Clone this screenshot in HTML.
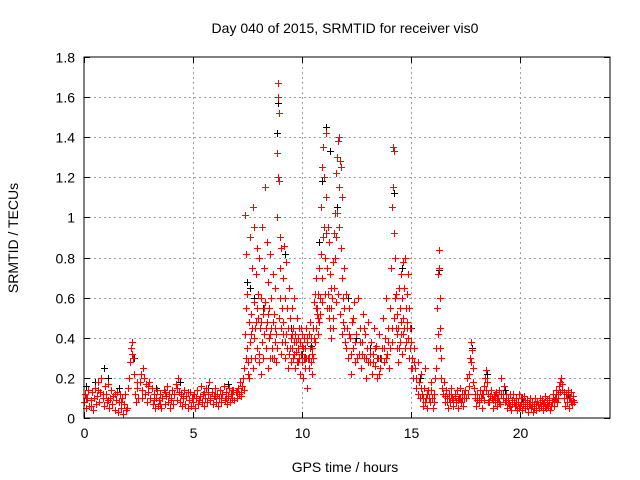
<!DOCTYPE html>
<html><head><meta charset="utf-8">
<style>
body{margin:0;background:#fff;}
svg{display:block;font-family:"Liberation Sans",sans-serif;}
</style></head>
<body>
<svg id="chart" width="640" height="480" xmlns="http://www.w3.org/2000/svg">
<rect width="640" height="480" fill="#fff"/>
<text x="345" y="33" text-anchor="middle" font-size="14" fill="#000">Day 040 of 2015, SRMTID for receiver vis0</text>
<text x="345" y="472" text-anchor="middle" font-size="14">GPS time / hours</text>
<text transform="translate(18,238) rotate(-90)" text-anchor="middle" font-size="14">SRMTID / TECUs</text>
<g id="grid"></g>
<g id="ticks"></g>
<g id="black"></g>
<g id="red"></g>
<rect x="84" y="57" width="526" height="361" fill="none" stroke="#000" stroke-width="1"/>
</svg>
<script>
const xTicks=[0,5,10,15,20];
const yTicks=[0,0.2,0.4,0.6,0.8,1,1.2,1.4,1.6,1.8];
const yTickLabels=["0","0.2","0.4","0.6","0.8","1","1.2","1.4","1.6","1.8"];
const blackPoints=[[0.1,0.16],[0.5,0.18],[0.9,0.25],[1.1,0.2],[1.6,0.15],[2.3,0.3],[3.3,0.15],[4.4,0.18],[5.7,0.15],[6.6,0.17],
[7.5,0.68],[7.6,0.65],[7.8,0.6],[8.2,0.55],[8.9,1.57],[8.85,1.42],[9.2,0.82],[9.5,0.45],[10,0.32],[10.4,0.36],[10.8,0.88],[10.9,1.18],[11.1,1.45],[11.3,1.33],[11.6,1.05],[12.1,0.6],[12.5,0.4],[13.1,0.35],[13.6,0.3],[14.2,1.12],[14.6,0.75],[15.0,0.45],[15.4,0.2],[16.3,0.74],[17.8,0.35],[18.5,0.22],[19.3,0.14],[20.1,0.1],[21.5,0.1],[22.2,0.12]];
const redPoints=[
[0.02,0.08],[0.05,0.12],[0.1,0.05],[0.15,0.1],[0.2,0.14],[0.25,0.06],[0.3,0.09],[0.35,0.13],[0.4,0.04],[0.45,0.1],[0.5,0.15],[0.55,0.07],[0.6,0.11],[0.65,0.18],[0.7,0.08],[0.75,0.13],[0.8,0.2],[0.85,0.1],[0.9,0.06],[0.95,0.16],[1.0,0.12],[1.05,0.08],[1.1,0.17],[1.15,0.05],[1.2,0.1],[1.25,0.14],[1.3,0.07],[1.35,0.11],[1.4,0.04],[1.45,0.09],[1.5,0.13],[1.55,0.03],[1.6,0.08],[1.65,0.12],[1.7,0.05],[1.75,0.1],[1.8,0.02],[1.85,0.07],[1.9,0.12],[1.95,0.05],[2.0,0.15],[2.05,0.2],[2.1,0.28],[2.15,0.35],[2.2,0.38],[2.25,0.3],[2.3,0.22],[2.35,0.12],[2.4,0.08],[2.45,0.15],[2.5,0.1],[2.55,0.18],[2.6,0.22],[2.65,0.14],[2.7,0.25],[2.75,0.2],[2.8,0.12],[2.85,0.17],[2.9,0.08],[2.95,0.13],[3.0,0.18],[3.05,0.1],[3.1,0.15],[3.15,0.07],[3.2,0.12],[3.25,0.05],[3.3,0.1],[3.35,0.14],[3.4,0.06],[3.45,0.09],[3.5,0.12],[3.55,0.05],[3.6,0.1],[3.65,0.14],[3.7,0.07],[3.75,0.11],[3.8,0.16],[3.85,0.08],[3.9,0.12],[3.95,0.05],[4.0,0.1],[4.05,0.14],[4.1,0.07],[4.15,0.12],[4.2,0.17],[4.25,0.09],[4.3,0.2],[4.35,0.13],[4.4,0.08],[4.45,0.12],[4.5,0.06],[4.55,0.1],[4.6,0.14],[4.65,0.07],[4.7,0.11],[4.75,0.05],[4.8,0.09],[4.85,0.13],[4.9,0.06],[4.95,0.1],[5.0,0.08],[5.05,0.12],[5.1,0.05],[5.15,0.1],[5.2,0.14],[5.25,0.07],[5.3,0.11],[5.35,0.16],[5.4,0.08],[5.45,0.12],[5.5,0.06],[5.55,0.1],[5.6,0.15],[5.65,0.08],[5.7,0.12],[5.75,0.18],[5.8,0.09],[5.85,0.13],[5.9,0.07],[5.95,0.11],[6.0,0.15],[6.05,0.08],[6.1,0.12],[6.15,0.06],[6.2,0.1],[6.25,0.14],[6.3,0.08],[6.35,0.12],[6.4,0.16],[6.45,0.09],[6.5,0.13],[6.55,0.07],[6.6,0.11],[6.65,0.15],[6.7,0.08],[6.75,0.12],[6.8,0.1],[6.85,0.14],[6.9,0.09],[6.95,0.13],[7.0,0.1],[7.05,0.15],[7.1,0.12],[7.15,0.18],[7.2,0.11],[7.25,0.16],[7.3,0.2],[7.32,0.14],[7.35,0.25],[7.38,0.42],[7.4,1.01],[7.42,0.82],[7.45,0.55],[7.48,0.35],[7.5,0.62],[7.52,0.28],[7.55,0.48],[7.58,0.2],[7.6,0.38],[7.62,0.9],[7.65,0.52],[7.68,0.3],[7.7,0.75],[7.72,0.45],[7.75,1.05],[7.78,0.4],[7.8,0.95],[7.82,0.58],[7.85,0.3],[7.88,0.72],[7.9,0.48],[7.92,0.85],[7.95,0.35],[7.98,0.62],[8.0,0.5],[8.02,0.28],[8.05,0.8],[8.08,0.45],[8.1,0.22],[8.12,0.6],[8.15,0.38],[8.18,0.95],[8.2,0.52],[8.22,0.3],[8.25,0.75],[8.28,0.42],[8.3,1.15],[8.32,0.58],[8.35,0.35],[8.38,0.88],[8.4,0.48],[8.42,0.25],[8.45,0.68],[8.48,0.4],[8.5,0.55],[8.52,0.3],[8.55,0.82],[8.58,0.45],[8.6,0.6],[8.62,0.35],[8.65,0.48],[8.68,0.72],[8.7,0.3],[8.72,0.52],[8.75,0.38],[8.78,0.65],[8.8,0.42],[8.82,0.28],[8.85,1.0],[8.87,1.32],[8.88,1.6],[8.9,1.67],[8.92,1.2],[8.93,1.52],[8.95,1.18],[8.97,0.9],[8.98,0.75],[9.0,0.6],[9.02,0.45],[9.05,0.85],[9.08,0.55],[9.1,0.38],[9.12,0.7],[9.15,0.48],[9.18,0.86],[9.2,0.3],[9.22,0.6],[9.25,0.42],[9.28,0.78],[9.3,0.35],[9.32,0.55],[9.35,0.25],[9.38,0.45],[9.4,0.65],[9.42,0.32],[9.45,0.5],[9.48,0.4],[9.5,0.28],[9.52,0.55],[9.55,0.35],[9.58,0.45],[9.6,0.3],[9.62,0.6],[9.65,0.38],[9.68,0.25],[9.7,0.42],[9.72,0.33],[9.75,0.5],[9.78,0.28],[9.8,0.4],[9.82,0.35],[9.85,0.45],[9.88,0.3],[9.9,0.22],[9.92,0.38],[9.95,0.32],[9.98,0.42],[10.0,0.28],[10.02,0.36],[10.05,0.2],[10.08,0.4],[10.1,0.3],[10.12,0.25],[10.15,0.35],[10.18,0.45],[10.2,0.3],[10.22,0.38],[10.25,0.15],[10.28,0.3],[10.3,0.42],[10.32,0.25],[10.35,0.35],[10.38,0.48],[10.4,0.28],[10.42,0.4],[10.45,0.22],[10.48,0.35],[10.5,0.45],[10.52,0.3],[10.55,0.58],[10.58,0.38],[10.6,0.62],[10.62,0.45],[10.65,0.7],[10.68,0.52],[10.7,0.55],[10.72,0.42],[10.75,0.62],[10.78,0.75],[10.8,0.48],[10.82,0.6],[10.85,0.82],[10.88,1.05],[10.9,0.7],[10.92,1.25],[10.95,0.9],[10.98,1.35],[11.0,0.95],[11.02,1.2],[11.05,0.8],[11.08,1.42],[11.1,1.1],[11.12,0.92],[11.15,0.75],[11.18,0.95],[11.2,0.62],[11.22,0.88],[11.25,0.55],[11.28,0.72],[11.3,0.45],[11.32,0.65],[11.35,0.4],[11.38,0.6],[11.4,0.78],[11.42,0.5],[11.45,0.92],[11.48,0.65],[11.5,1.02],[11.52,0.8],[11.55,1.22],[11.58,0.9],[11.6,1.3],[11.62,1.02],[11.65,1.38],[11.68,1.15],[11.7,0.95],[11.72,1.4],[11.75,1.28],[11.78,0.85],[11.8,1.25],[11.82,0.7],[11.85,1.1],[11.88,0.6],[11.9,0.48],[11.92,0.75],[11.95,0.55],[11.98,0.38],[12.0,0.62],[12.05,0.45],[12.1,0.3],[12.15,0.55],[12.2,0.4],[12.25,0.22],[12.3,0.48],[12.35,0.35],[12.4,0.58],[12.45,0.28],[12.5,0.42],[12.55,0.6],[12.6,0.32],[12.65,0.45],[12.7,0.25],[12.75,0.38],[12.8,0.52],[12.85,0.3],[12.9,0.42],[12.95,0.2],[13.0,0.35],[13.05,0.48],[13.1,0.28],[13.15,0.38],[13.2,0.22],[13.25,0.32],[13.3,0.45],[13.35,0.26],[13.4,0.36],[13.45,0.2],[13.5,0.3],[13.55,0.42],[13.6,0.25],[13.65,0.35],[13.7,0.5],[13.75,0.28],[13.8,0.4],[13.85,0.6],[13.9,0.32],[13.95,0.45],[14.0,0.25],[14.05,0.55],[14.1,0.75],[14.12,0.38],[14.15,1.05],[14.17,1.35],[14.18,1.15],[14.2,1.33],[14.22,0.92],[14.25,0.6],[14.28,0.8],[14.3,0.45],[14.32,0.62],[14.35,0.35],[14.38,0.52],[14.4,0.28],[14.42,0.45],[14.45,0.65],[14.48,0.38],[14.5,0.55],[14.52,0.72],[14.55,0.42],[14.58,0.6],[14.6,0.32],[14.62,0.78],[14.65,0.5],[14.68,0.65],[14.7,0.45],[14.72,0.8],[14.75,0.55],[14.78,0.38],[14.8,0.62],[14.82,0.48],[14.85,0.72],[14.88,0.4],[14.9,0.55],[14.92,0.3],[14.95,0.45],[14.98,0.25],[15.0,0.38],[15.05,0.3],[15.1,0.2],[15.15,0.35],[15.2,0.25],[15.25,0.15],[15.3,0.28],[15.35,0.18],[15.4,0.1],[15.45,0.22],[15.5,0.12],[15.55,0.06],[15.6,0.15],[15.65,0.25],[15.7,0.1],[15.75,0.05],[15.8,0.14],[15.85,0.08],[15.9,0.18],[15.95,0.1],[16.0,0.05],[16.05,0.12],[16.1,0.2],[16.15,0.35],[16.2,0.55],[16.25,0.72],[16.28,0.84],[16.3,0.75],[16.32,0.6],[16.35,0.45],[16.38,0.3],[16.4,0.2],[16.45,0.12],[16.5,0.18],[16.55,0.08],[16.6,0.14],[16.65,0.1],[16.7,0.05],[16.75,0.12],[16.8,0.08],[16.85,0.15],[16.9,0.1],[16.95,0.06],[17.0,0.12],[17.05,0.08],[17.1,0.14],[17.15,0.05],[17.2,0.1],[17.25,0.15],[17.3,0.08],[17.35,0.12],[17.4,0.06],[17.45,0.1],[17.5,0.14],[17.55,0.2],[17.6,0.12],[17.65,0.22],[17.7,0.3],[17.75,0.38],[17.8,0.34],[17.85,0.25],[17.9,0.15],[17.95,0.1],[18.0,0.06],[18.05,0.12],[18.1,0.08],[18.15,0.14],[18.2,0.1],[18.25,0.05],[18.3,0.12],[18.35,0.16],[18.4,0.2],[18.45,0.24],[18.5,0.18],[18.55,0.12],[18.6,0.08],[18.65,0.14],[18.7,0.1],[18.75,0.05],[18.8,0.11],[18.85,0.08],[18.9,0.13],[18.95,0.06],[19.0,0.1],[19.05,0.14],[19.1,0.07],[19.15,0.2],[19.2,0.12],[19.25,0.16],[19.3,0.08],[19.35,0.12],[19.4,0.05],[19.45,0.1],[19.5,0.07],[19.55,0.12],[19.6,0.04],[19.65,0.09],[19.7,0.12],[19.75,0.06],[19.8,0.1],[19.85,0.04],[19.9,0.08],[19.95,0.12],[20.0,0.06],[20.05,0.1],[20.1,0.04],[20.15,0.08],[20.2,0.11],[20.25,0.05],[20.3,0.09],[20.35,0.03],[20.4,0.07],[20.45,0.1],[20.5,0.05],[20.55,0.08],[20.6,0.03],[20.65,0.07],[20.7,0.1],[20.75,0.04],[20.8,0.08],[20.85,0.05],[20.9,0.1],[20.95,0.06],[21.0,0.09],[21.05,0.04],[21.1,0.08],[21.15,0.11],[21.2,0.05],[21.25,0.09],[21.3,0.06],[21.35,0.1],[21.4,0.04],[21.45,0.08],[21.5,0.12],[21.55,0.06],[21.6,0.1],[21.65,0.14],[21.7,0.08],[21.75,0.12],[21.8,0.16],[21.85,0.18],[21.9,0.2],[21.95,0.14],[22.0,0.1],[22.05,0.06],[22.1,0.12],[22.15,0.08],[22.2,0.14],[22.25,0.05],[22.3,0.1],[22.35,0.13],[22.4,0.07],[22.45,0.11],[22.5,0.08]
];
const redPoints2=[
[0.08,0.1],[0.32,0.06],[0.62,0.14],[0.88,0.12],[1.12,0.09],[1.42,0.12],[1.68,0.08],[1.92,0.04],[2.22,0.32],[2.42,0.18],[2.68,0.1],[2.92,0.16],[3.22,0.09],[3.48,0.07],[3.72,0.13],[3.98,0.09],[4.28,0.15],[4.52,0.11],[4.78,0.13],[5.02,0.1],[5.28,0.09],[5.52,0.13],[5.78,0.1],[6.02,0.11],[6.28,0.1],[6.52,0.1],[6.78,0.14],[7.02,0.13],[7.22,0.13],
[7.44,0.3],[7.54,0.22],[7.64,0.42],[7.74,0.25],[7.84,0.45],[7.94,0.55],[8.04,0.32],[8.14,0.48],[8.24,0.55],[8.34,0.45],[8.44,0.52],[8.54,0.42],[8.64,0.3],[8.74,0.45],[8.84,0.35],[8.94,0.5],[9.04,0.32],[9.14,0.42],[9.24,0.38],[9.34,0.45],[9.44,0.35],[9.54,0.42],[9.64,0.32],[9.74,0.38],[9.84,0.28],[9.94,0.45],[10.04,0.35],[10.14,0.3],[10.24,0.4],[10.34,0.3],[10.44,0.32],[10.54,0.4],[10.64,0.55],[10.74,0.5],[10.84,0.52],[10.94,0.58],[11.04,0.62],[11.14,0.55],[11.24,0.5],[11.34,0.55],[11.44,0.45],[11.54,0.58],[11.64,0.62],[11.74,0.52],[11.84,0.42],[11.94,0.45],[12.04,0.35],[12.14,0.42],[12.24,0.32],[12.34,0.5],[12.44,0.38],[12.54,0.3],[12.64,0.38],[12.74,0.32],[12.84,0.45],[12.94,0.3],[13.04,0.28],[13.14,0.32],[13.24,0.28],[13.34,0.35],[13.44,0.3],[13.54,0.22],[13.64,0.3],[13.74,0.35],[13.84,0.3],[13.94,0.38],[14.04,0.35],[14.14,0.45],[14.24,0.5],[14.34,0.42],[14.44,0.35],[14.54,0.48],[14.64,0.42],[14.74,0.35],[14.84,0.45],[14.94,0.35],[15.04,0.25],[15.14,0.28],[15.24,0.2],[15.34,0.12],[15.44,0.15],[15.54,0.1],[15.64,0.08],[15.74,0.12],[15.84,0.1],[15.94,0.14],[16.04,0.08],[16.14,0.25],[16.24,0.42],[16.34,0.35],[16.44,0.15],[16.54,0.11],[16.64,0.08],[16.74,0.1],[16.84,0.12],[16.94,0.09],[17.04,0.11],[17.14,0.09],[17.24,0.1],[17.34,0.1],[17.44,0.12],[17.54,0.1],[17.64,0.16],[17.74,0.28],[17.84,0.18],[17.94,0.12],[18.04,0.09],[18.14,0.1],[18.24,0.12],[18.34,0.09],[18.44,0.14],[18.54,0.08],[18.64,0.11],[18.74,0.09],[18.84,0.12],[18.94,0.1],[19.04,0.08],[19.14,0.12],[19.24,0.1],[19.34,0.09],[19.44,0.08],[19.54,0.06],[19.64,0.07],[19.74,0.08],[19.84,0.07],[19.94,0.05],[20.04,0.08],[20.14,0.07],[20.24,0.08],[20.34,0.06],[20.44,0.07],[20.54,0.06],[20.64,0.05],[20.74,0.07],[20.84,0.07],[20.94,0.08],[21.04,0.07],[21.14,0.06],[21.24,0.07],[21.34,0.08],[21.44,0.06],[21.54,0.09],[21.64,0.1],[21.74,0.1],[21.84,0.13],[21.94,0.17],[22.04,0.13],[22.14,0.1],[22.24,0.1],[22.34,0.08],[22.44,0.09]
];
const NS="http://www.w3.org/2000/svg";
const X0=84,X1=610,Y0=418,Y1=57,XMAX=24.13,YMAX=1.8;
function xs(v){return X0+(X1-X0)*v/XMAX;}
function ys(v){return Y0-(Y0-Y1)*v/YMAX;}
function mk(tag,attrs,parent){const e=document.createElementNS(NS,tag);for(const k in attrs)e.setAttribute(k,attrs[k]);parent.appendChild(e);return e;}
const grid=document.getElementById('grid'),ticks=document.getElementById('ticks');
xTicks.forEach((t,i)=>{
 const x=Math.round(xs(t))+0.5;
 if(t>0){const g=mk('line',{x1:x,x2:x,y1:Y1,y2:Y0,stroke:'#a0a0a0','stroke-dasharray':'2,3'},grid);
 
 }
 mk('line',{x1:x,x2:x,y1:Y0,y2:Y0-6,stroke:'#000'},ticks);
 mk('line',{x1:x,x2:x,y1:Y1,y2:Y1+6,stroke:'#000'},ticks);
 const l=mk('text',{x:x,y:Y0+20,'text-anchor':'middle','font-size':'14'},ticks);l.textContent=String(t);
 
 
});
yTicks.forEach((t,i)=>{
 const y=Math.round(ys(t))+0.5;
 if(t>0&&t<1.8){const g=mk('line',{x1:X0,x2:X1,y1:y,y2:y,stroke:'#a0a0a0','stroke-dasharray':'2,3'},grid);
 
 }
 mk('line',{x1:X0,x2:X0+6,y1:y,y2:y,stroke:'#000'},ticks);
 mk('line',{x1:X1,x2:X1-6,y1:y,y2:y,stroke:'#000'},ticks);
 const l=mk('text',{x:X0-9,y:y+5,'text-anchor':'end','font-size':'14'},ticks);l.textContent=yTickLabels[i];
 
 
});
function plus(parent,p,color,name){
 const x=Math.round(xs(p[0]))+0.5,y=Math.round(ys(p[1]))+0.5;
 const e=mk('path',{d:`M${x-3.5} ${y}H${x+3.5}M${x} ${y-3.5}V${y+3.5}`,stroke:color,'stroke-width':'1',fill:'none'},parent);
 
 
}
blackPoints.forEach(p=>plus(document.getElementById('black'),p,'#000','black-point'));
redPoints.forEach(p=>plus(document.getElementById('red'),p,'#f00','red-point'));
redPoints2.forEach(p=>plus(document.getElementById('red'),p,'#f00','red-point'));
</script>
</body></html>
